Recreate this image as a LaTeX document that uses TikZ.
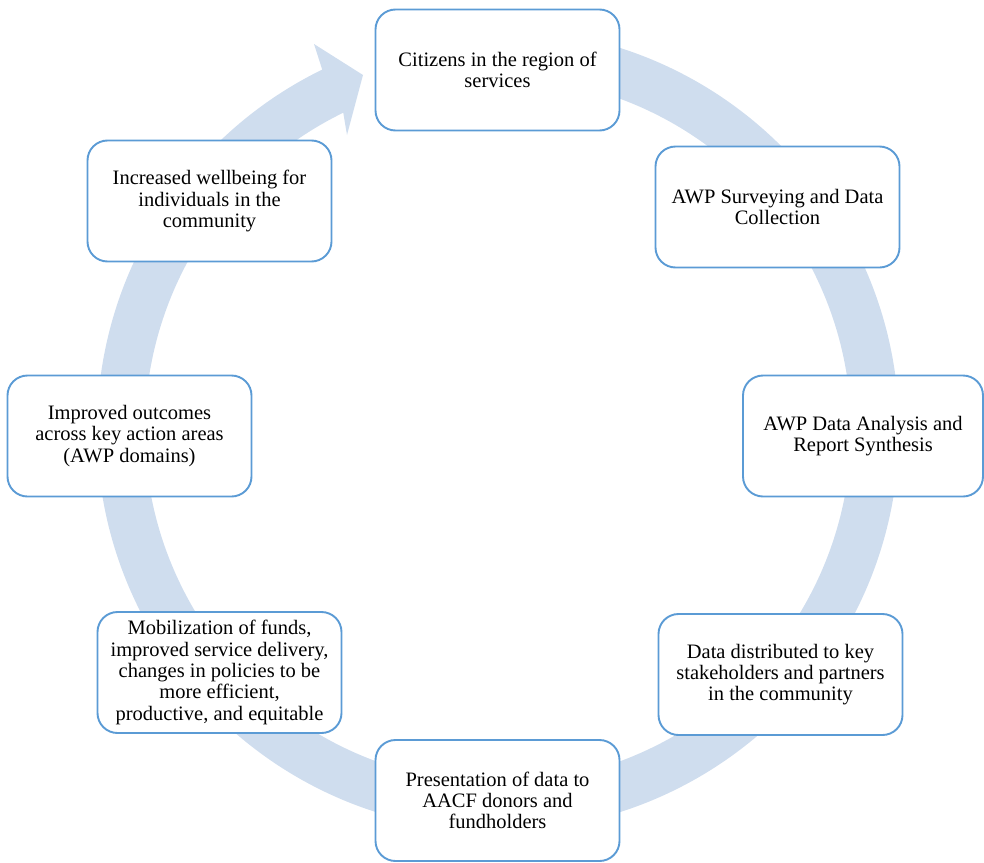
\documentclass[tikz,border=0pt]{standalone}
\usepackage{fontspec}
\setmainfont{Liberation Serif}
\usetikzlibrary{calc}
\definecolor{ringblue}{RGB}{207,221,238}
\definecolor{boxblue}{RGB}{91,155,213}
\tikzset{
  stagebox/.style={draw=boxblue, line width=1.9pt, fill=white, rounded corners=20pt,
    minimum width=244pt, minimum height=121pt, align=center, inner sep=4pt,
    font=\rmfamily\fontsize{20.5}{21.3}\selectfont, text=black},
}
\begin{document}
\begin{tikzpicture}[x=1pt,y=1pt]
\useasboundingbox (0,0) rectangle (984,-862);
\coordinate (C) at (498,-430);
\coordinate (hA) at (314,-44);
\coordinate (hT) at (363,-75);
\coordinate (hB) at (347,-135);
% cycle ring with arrow head
\fill[ringblue] ($(C)+(88:401pt)$) arc[start angle=88, end angle=-244, radius=401pt]
  -- (hA) -- (hT) -- (hB) -- ($(C)+(-244:353pt)$)
  arc[start angle=-244, end angle=88, radius=353pt] -- cycle;
% stages
\node[stagebox] (s1) at (497.5,-70) {Citizens in the region of\\services};
\node[stagebox] (s2) at (777.5,-207) {AWP Surveying and Data\\Collection};
\node[stagebox, minimum width=240pt] (s3) at (863,-436) {AWP Data Analysis and\\Report Synthesis};
\node[stagebox] (s4) at (780.5,-674.5) {Data distributed to key\\stakeholders and partners\\in the community};
\node[stagebox] (s5) at (497.5,-800.5) {Presentation of data to\\AACF donors and\\fundholders};
\node[stagebox] (s6) at (219.5,-672.5) {Mobilization of funds,\\improved service delivery,\\changes in policies to be\\more efficient,\\productive, and equitable};
\node[stagebox] (s7) at (129.5,-436) {Improved outcomes\\across key action areas\\(AWP domains)};
\node[stagebox] (s8) at (209.5,-201) {Increased wellbeing for\\individuals in the\\community};
\end{tikzpicture}
\end{document}
